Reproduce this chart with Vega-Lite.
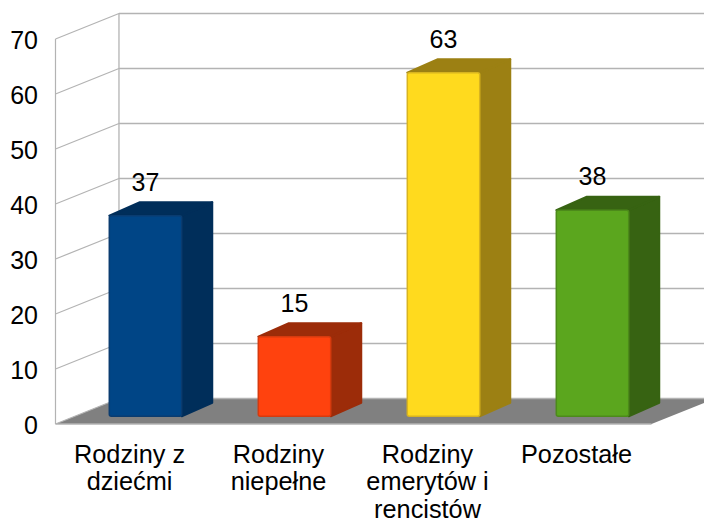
{
"$schema":"https://vega.github.io/schema/vega-lite/v6.json",
"width":648.5,"height":410.5,
"autosize":"none",
"padding":{"left":55.5,"top":13.5,"right":0,"bottom":94},
"background":"white",
"view":{"stroke":null},
"config":{"font":"Liberation Sans","axis":{"grid":false,"domain":false,"ticks":false}},
"datasets":{
 "bars":[
  {"idx":0,"category":"Rodziny z dziećmi","value":37},
  {"idx":1,"category":"Rodziny niepełne","value":15},
  {"idx":2,"category":"Rodziny emerytów i rencistów","value":63},
  {"idx":3,"category":"Pozostałe","value":38}],
 "ticks":[{"v":0},{"v":10},{"v":20},{"v":30},{"v":40},{"v":50},{"v":60},{"v":70}],
 "cats":[{"c":0}]
},
"layer":[
 {"data":{"name":"cats"},
  "transform":[{"calculate":"[0,1]","as":"t"},{"flatten":["t"]},
   {"calculate":"datum.t*0.426","as":"xa"},{"calculate":"4+datum.t*0.426","as":"xb"},{"calculate":"datum.t*4.636","as":"yy"}],
  "mark":{"type":"area","orient":"horizontal","color":"#808080","clip":true},
  "encoding":{
   "y":{"field":"yy","type":"quantitative","title":null,"stack":null,"scale":{"domain":[0,74.636]},
     "axis":{"values":[0,10,20,30,40,50,60,70],"labelFont":"Liberation Sans","labelFontSize":25,"labelColor":"#000000","labelPadding":18,"labelOffset":1.5}},
   "x":{"field":"xa","type":"quantitative","title":null,"stack":null,"scale":{"domain":[0,4.3523]},
     "axis":{"values":[0.5,1.5,2.5,3.5],"labelFont":"Liberation Sans","labelFontSize":25.3,"labelColor":"#000000","labelPadding":18,"labelLineHeight":27.5,"labelBaseline":"top","labelAngle":0,"labelOverlap":false,"labelOffset":-1,
       "labelExpr":"[['Rodziny z','dziećmi'],['Rodziny','niepełne'],['Rodziny','emerytów i','rencistów'],['Pozostałe']][floor(datum.value)]"}},
   "x2":{"field":"xb","title":null}}},
 {"data":{"name":"ticks"},
  "transform":[{"calculate":"0","as":"x0"},{"calculate":"datum.v+4.636","as":"vb"},{"calculate":"0.426","as":"xb"}],
  "mark":{"type":"rule","color":"#b3b3b3","strokeWidth":1.2},
  "encoding":{"x":{"field":"x0","type":"quantitative","title":null,"scale":{"domain":[0,4.3523]}},"y":{"field":"v","type":"quantitative","title":null,"scale":{"domain":[0,74.636]}},"x2":{"field":"xb","title":null},"y2":{"field":"vb","title":null}}},
 {"data":{"name":"ticks"},
  "transform":[{"calculate":"datum.v+4.636","as":"vb"},{"calculate":"0.426","as":"xb"},{"calculate":"4.3523","as":"xe"}],
  "mark":{"type":"rule","color":"#b3b3b3","strokeWidth":1.3},
  "encoding":{"x":{"field":"xb","type":"quantitative","title":null,"scale":{"domain":[0,4.3523]}},"y":{"field":"vb","type":"quantitative","title":null,"scale":{"domain":[0,74.636]}},"x2":{"field":"xe","title":null}}},
 {"data":{"name":"ticks"},
  "transform":[{"filter":"datum.v==0"},{"calculate":"4.636","as":"y0"},{"calculate":"74.636","as":"y1"},{"calculate":"0.426","as":"xb"}],
  "mark":{"type":"rule","color":"#b3b3b3","strokeWidth":1.3},
  "encoding":{"x":{"field":"xb","type":"quantitative","title":null,"scale":{"domain":[0,4.3523]}},"y":{"field":"y0","type":"quantitative","title":null,"scale":{"domain":[0,74.636]}},"y2":{"field":"y1","title":null}}},
 {"data":{"name":"ticks"},
  "transform":[{"filter":"datum.v==0"},{"calculate":"0","as":"x0"},{"calculate":"70","as":"y7"}],
  "mark":{"type":"rule","color":"#b3b3b3","strokeWidth":1.2},
  "encoding":{"x":{"field":"x0","type":"quantitative","title":null,"scale":{"domain":[0,4.3523]}},"y":{"field":"v","type":"quantitative","title":null,"scale":{"domain":[0,74.636]}},"y2":{"field":"y7","title":null}}},
 {"data":{"name":"ticks"},
  "transform":[{"filter":"datum.v==0"},{"calculate":"0","as":"x0"},{"calculate":"4","as":"xf"}],
  "mark":{"type":"rule","color":"#b3b3b3","strokeWidth":1.3},
  "encoding":{"x":{"field":"x0","type":"quantitative","title":null,"scale":{"domain":[0,4.3523]}},"y":{"field":"v","type":"quantitative","title":null,"scale":{"domain":[0,74.636]}},"x2":{"field":"xf","title":null}}},
 {"data":{"name":"bars"},
  "transform":[{"calculate":"[0,1]","as":"t"},{"flatten":["t"]},
   {"calculate":"datum.idx+0.847+datum.t*0.205","as":"sx"},
   {"calculate":"1.4+datum.t*2.45","as":"sy0"},
   {"calculate":"datum.value+0.87+datum.t*2.45","as":"sy1"}],
  "mark":{"type":"area","orient":"vertical","strokeWidth":2,"strokeJoin":"round"},
  "encoding":{
   "x":{"field":"sx","type":"quantitative","title":null,"scale":{"domain":[0,4.3523]}},
   "y":{"field":"sy0","type":"quantitative","title":null,"stack":null,"scale":{"domain":[0,74.636]}},
   "y2":{"field":"sy1","title":null},
   "detail":{"field":"idx","type":"nominal"},
   "color":{"field":"category","type":"nominal","legend":null,"scale":{"domain":["Rodziny z dziećmi","Rodziny niepełne","Rodziny emerytów i rencistów","Pozostałe"],"range":["#002e5a","#9c2c09","#9c8013","#376312"]}},
   "stroke":{"field":"category","type":"nominal","legend":null,"scale":{"domain":["Rodziny z dziećmi","Rodziny niepełne","Rodziny emerytów i rencistów","Pozostałe"],"range":["#002e5a","#9c2c09","#9c8013","#376312"]}}}},
 {"data":{"name":"bars"},
  "transform":[{"calculate":"[0,1]","as":"t"},{"flatten":["t"]},
   {"calculate":"datum.idx+0.361+datum.t*0.205","as":"tx0"},
   {"calculate":"datum.idx+0.847+datum.t*0.205","as":"tx1"},
   {"calculate":"datum.value+0.87+datum.t*2.45","as":"ty"}],
  "mark":{"type":"area","orient":"horizontal","strokeWidth":2,"strokeJoin":"round"},
  "encoding":{
   "y":{"field":"ty","type":"quantitative","title":null,"scale":{"domain":[0,74.636]}},
   "x":{"field":"tx0","type":"quantitative","title":null,"stack":null,"scale":{"domain":[0,4.3523]}},
   "x2":{"field":"tx1","title":null},
   "detail":{"field":"idx","type":"nominal"},
   "color":{"field":"category","type":"nominal","legend":null,"scale":{"domain":["Rodziny z dziećmi","Rodziny niepełne","Rodziny emerytów i rencistów","Pozostałe"],"range":["#002e5a","#9c2c09","#9c8013","#376312"]}},
   "stroke":{"field":"category","type":"nominal","legend":null,"scale":{"domain":["Rodziny z dziećmi","Rodziny niepełne","Rodziny emerytów i rencistów","Pozostałe"],"range":["#002e5a","#9c2c09","#9c8013","#376312"]}}}},
 {"data":{"name":"bars"},
  "transform":[
   {"calculate":"datum.idx+0.361","as":"fx0"},
   {"calculate":"datum.idx+0.847","as":"fx1"},
   {"calculate":"1.4","as":"fy0"},
   {"calculate":"datum.value+0.87","as":"fy1"}],
  "mark":{"type":"rect","strokeWidth":1.5,"cornerRadius":2},
  "encoding":{
   "x":{"field":"fx0","type":"quantitative","title":null,"scale":{"domain":[0,4.3523]}},
   "x2":{"field":"fx1","title":null},
   "y":{"field":"fy0","type":"quantitative","title":null,"scale":{"domain":[0,74.636]}},
   "y2":{"field":"fy1","title":null},
   "fill":{"field":"category","type":"nominal","legend":null,"scale":{"domain":["Rodziny z dziećmi","Rodziny niepełne","Rodziny emerytów i rencistów","Pozostałe"],"range":["#004586","#ff420e","#ffda1e","#5ba61e"]}},
   "stroke":{"field":"category","type":"nominal","legend":null,"scale":{"domain":["Rodziny z dziećmi","Rodziny niepełne","Rodziny emerytów i rencistów","Pozostałe"],"range":["#0a3c70","#d63a0e","#d8b420","#4c8a1a"]}}}},
 {"data":{"name":"bars"},
  "transform":[{"calculate":"datum.idx+0.604","as":"lx"},{"calculate":"datum.value+0.87","as":"ly"}],
  "mark":{"type":"text","font":"Liberation Sans","fontSize":25,"color":"#000000","dy":-33,"baseline":"middle","align":"center"},
  "encoding":{
   "x":{"field":"lx","type":"quantitative","title":null,"scale":{"domain":[0,4.3523]}},
   "y":{"field":"ly","type":"quantitative","title":null,"scale":{"domain":[0,74.636]}},
   "text":{"field":"value","type":"quantitative"}}}
],
"resolve":{"scale":{"color":"independent","stroke":"independent","fill":"independent"}}
}
